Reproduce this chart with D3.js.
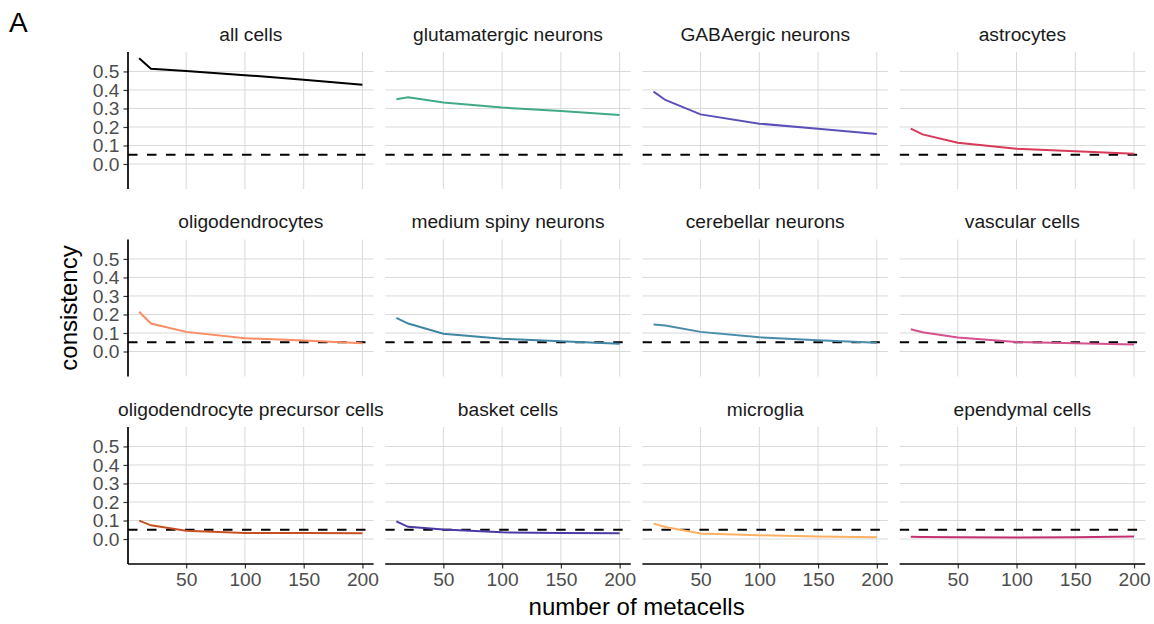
<!DOCTYPE html>
<html>
<head>
<meta charset="utf-8">
<script src="https://cdn.jsdelivr.net/npm/d3@7"></script>
<style>
    body { margin: 0; background: #fff; }
    text { font-family: "Liberation Sans", Arial, sans-serif; }
</style>
</head>
<body>
<div id="chart"></div>
<script>
// data
var panelTitles = ["all cells", "glutamatergic neurons", "GABAergic neurons", "astrocytes",
    "oligodendrocytes", "medium spiny neurons", "cerebellar neurons", "vascular cells",
    "oligodendrocyte precursor cells", "basket cells", "microglia", "ependymal cells"];
var metacells = [10, 20, 50, 100, 150, 200];

var allCells = [0.571, 0.515, 0.502, 0.480, 0.455, 0.428];
var glutamatergic = [0.350, 0.360, 0.332, 0.305, 0.286, 0.265];
var gabaergic = [0.391, 0.346, 0.268, 0.218, 0.191, 0.162];
var astrocytes = [0.191, 0.160, 0.115, 0.083, 0.069, 0.055];
var oligodendrocytes = [0.215, 0.151, 0.106, 0.072, 0.059, 0.045];
var mediumSpiny = [0.182, 0.151, 0.096, 0.069, 0.056, 0.042];
var cerebellar = [0.146, 0.141, 0.106, 0.077, 0.061, 0.047];
var vascular = [0.120, 0.104, 0.076, 0.052, 0.045, 0.038];
var opc = [0.099, 0.074, 0.045, 0.033, 0.032, 0.031];
var basket = [0.095, 0.066, 0.052, 0.036, 0.033, 0.031];
var microglia = [0.083, 0.065, 0.030, 0.020, 0.014, 0.009];
var ependymal = [0.012, 0.011, 0.010, 0.008, 0.010, 0.013];

var seriesValues = [allCells, glutamatergic, gabaergic, astrocytes, oligodendrocytes, mediumSpiny,
    cerebellar, vascular, opc, basket, microglia, ependymal];
var lineColors = ["#000000", "#40aa85", "#5b50b8", "#d63a58", "#fb8c63", "#3e86a3",
    "#478ca9", "#d5508f", "#c8501e", "#4b3aa5", "#fdb063", "#c42f73"];

var yTicks = [0, 0.1, 0.2, 0.3, 0.4, 0.5];
var xTicks = [50, 100, 150, 200];
var threshold = 0.05;

function draw() {
    var W = 1154, H = 624;
    var left = 128, top = 52;
    var pw = 245.6, ph = 137;
    var colStep = 257.2, rowStep = 187.5;
    var nCol = 4, nRow = 3;

    var svg = d3.select("#chart")
        .append("svg")
        .attr("width", W)
        .attr("height", H);

    var xScale = d3.scaleLinear().domain([0.5, 209.5]).range([0, pw]);
    var yScale = d3.scaleLinear().domain([-0.135, 0.605]).range([ph, 0]);

    var line = d3.line()
        .x(function (d) { return xScale(d[0]); })
        .y(function (d) { return yScale(d[1]); });

    svg.append("defs").append("clipPath")
        .attr("id", "panelClip")
        .append("rect")
        .attr("width", pw)
        .attr("height", ph);

    panelTitles.forEach(function (title, i) {
        var col = i % nCol, row = Math.floor(i / nCol);
        var g = svg.append("g")
            .attr("transform", "translate(" + (left + col * colStep) + "," + (top + row * rowStep) + ")");

        // grid
        g.selectAll(".hgrid")
            .data(yTicks)
            .enter()
            .append("line")
            .attr("x1", 0).attr("x2", pw)
            .attr("y1", function (d) { return yScale(d); })
            .attr("y2", function (d) { return yScale(d); })
            .attr("stroke", "#d9d9d9")
            .attr("stroke-width", 1);

        g.selectAll(".vgrid")
            .data(xTicks)
            .enter()
            .append("line")
            .attr("y1", 0).attr("y2", ph)
            .attr("x1", function (d) { return xScale(d); })
            .attr("x2", function (d) { return xScale(d); })
            .attr("stroke", "#d9d9d9")
            .attr("stroke-width", 1);

        var inner = g.append("g").attr("clip-path", "url(#panelClip)");

        inner.append("line")
            .attr("x1", 0).attr("x2", pw)
            .attr("y1", yScale(threshold))
            .attr("y2", yScale(threshold))
            .attr("stroke", "#000")
            .attr("stroke-width", 2.2)
            .attr("stroke-dasharray", "9.5,9.5");

        inner.append("path")
            .datum(metacells.map(function (m, j) { return [m, seriesValues[i][j]]; }))
            .attr("d", line)
            .attr("fill", "none")
            .attr("stroke", lineColors[i])
            .attr("stroke-width", 2);

        // strip title
        g.append("text")
            .attr("x", pw / 2)
            .attr("y", -11.5)
            .attr("text-anchor", "middle")
            .attr("font-size", 19.2)
            .attr("fill", "#1a1a1a")
            .text(title);

        if (col === 0) {
            var yAxis = d3.axisLeft(yScale)
                .tickValues(yTicks)
                .tickFormat(d3.format(".1f"))
                .tickSize(4.5)
                .tickPadding(4);
            var ya = g.append("g").call(yAxis);
            ya.select(".domain").remove();
            ya.selectAll(".tick line").attr("stroke", "#333").attr("stroke-width", 1.2);
            ya.selectAll(".tick text")
                .attr("font-size", 19.2)
                .attr("font-family", "Liberation Sans, Arial, sans-serif")
                .attr("fill", "#4d4d4d");
            g.append("line")
                .attr("x1", 0).attr("x2", 0)
                .attr("y1", 0).attr("y2", ph)
                .attr("stroke", "#000")
                .attr("stroke-width", 1.7);
        }

        if (row === nRow - 1) {
            var xAxis = d3.axisBottom(xScale)
                .tickValues(xTicks)
                .tickSize(4.5)
                .tickPadding(4);
            var xa = g.append("g")
                .attr("transform", "translate(0," + ph + ")")
                .call(xAxis);
            xa.select(".domain").remove();
            xa.selectAll(".tick line").attr("stroke", "#333").attr("stroke-width", 1.2);
            xa.selectAll(".tick text")
                .attr("font-size", 19.2)
                .attr("font-family", "Liberation Sans, Arial, sans-serif")
                .attr("fill", "#4d4d4d");
            g.append("line")
                .attr("x1", 0).attr("x2", pw)
                .attr("y1", ph).attr("y2", ph)
                .attr("stroke", "#000")
                .attr("stroke-width", 1.7);
        }
    });

    // axis titles
    svg.append("text")
        .attr("x", left + (3 * colStep + pw) / 2)
        .attr("y", 615)
        .attr("text-anchor", "middle")
        .attr("font-size", 24)
        .attr("fill", "#000")
        .text("number of metacells");

    svg.append("text")
        .attr("transform", "translate(76.5," + (top + rowStep + ph / 2) + ") rotate(-90)")
        .attr("text-anchor", "middle")
        .attr("font-size", 24)
        .attr("fill", "#000")
        .text("consistency");

    svg.append("text")
        .attr("x", 9)
        .attr("y", 31.7)
        .attr("font-size", 28)
        .attr("fill", "#000")
        .text("A");
}

window.onload = draw;
</script>
</body>
</html>
